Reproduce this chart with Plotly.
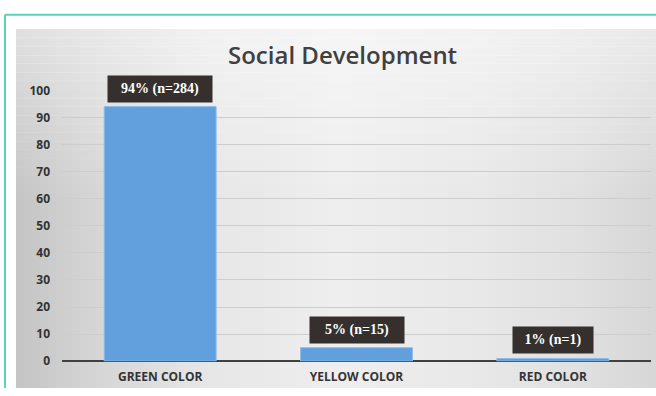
import plotly.graph_objects as go

categories = ["GREEN COLOR", "YELLOW COLOR", "RED COLOR"]
percent_values = [94, 5, 1]
bar_labels = ["94% (n=284)", "5% (n=15)", "1% (n=1)"]
label_widths = [104, 94, 80]
y_ticks = [0, 10, 20, 30, 40, 50, 60, 70, 80, 90, 100]

W, H = 656, 396


def px(x):
    return x / W


def py(y):
    return 1 - y / H


shapes = []
anchors = [(16, 196), (90, 212), (200, 230), (340, 238), (480, 232), (580, 224), (656, 214)]


def grey_at(x):
    for (x0, g0), (x1, g1) in zip(anchors[:-1], anchors[1:]):
        if x0 <= x <= x1:
            t = (x - x0) / (x1 - x0)
            return g0 + t * (g1 - g0)
    return anchors[-1][1]


n = 80
step = (W - 16) / n
for i in range(n):
    x0 = 16 + i * step
    x1 = min(x0 + step + 0.6, W)
    g = int(round(grey_at(x0 + step / 2)))
    shapes.append(dict(type="rect", xref="paper", yref="paper", x0=px(x0), x1=px(x1),
                       y0=py(396), y1=py(21), fillcolor=f"rgb({g},{g},{g})",
                       line=dict(width=0), layer="below"))
m = 20
for j in range(m):
    y0 = 21 + j * 9
    op = 0.45 * (1 - j / m)
    shapes.append(dict(type="rect", xref="paper", yref="paper", x0=px(16), x1=px(W),
                       y0=py(y0 + 9.5), y1=py(y0), fillcolor="white", opacity=op,
                       line=dict(width=0), layer="below"))
# teal frame
shapes.append(dict(type="line", xref="paper", yref="paper", x0=px(5), x1=px(W), y0=py(6), y1=py(6),
                   line=dict(color="#55d6bd", width=2), layer="above"))
shapes.append(dict(type="line", xref="paper", yref="paper", x0=px(5), x1=px(5), y0=py(6), y1=py(396),
                   line=dict(color="#55d6bd", width=2), layer="above"))

fig = go.Figure()
fig.add_trace(go.Bar(
    x=categories, y=percent_values, width=0.57,
    marker=dict(color="#62a0dd", line=dict(color="#8fbde8", width=1)),
    hoverinfo="skip",
))

annotations = []
for c, v, lab, w in zip(categories, percent_values, bar_labels, label_widths):
    annotations.append(dict(
        x=c, y=v, xref="x", yref="y", text=f"<b>{lab}</b>", showarrow=False,
        yanchor="bottom", yshift=4, bgcolor="#35302d", borderpad=0,
        width=w, height=26,
        font=dict(family="Liberation Serif", size=14, color="white"),
    ))
annotations.append(dict(
    x=px(342), y=py(48), xref="paper", yref="paper", text="Social Development",
    showarrow=False, xanchor="center", yanchor="middle",
    font=dict(family="Open Sans", size=24, color="#404040", weight=600),
))

fig.update_layout(
    width=W, height=H,
    margin=dict(l=0, r=0, t=0, b=0),
    paper_bgcolor="white",
    plot_bgcolor="rgba(0,0,0,0)",
    shapes=shapes,
    annotations=annotations,
    showlegend=False,
    hovermode=False,
    xaxis=dict(
        domain=[px(62), px(651)],
        showgrid=False, zeroline=False, showline=False,
        tickfont=dict(family="Open Sans", size=12, color="#333333", weight=700),
        ticklabelstandoff=7,
    ),
    yaxis=dict(
        domain=[py(368), py(85)],
        range=[0, 100],
        tickvals=y_ticks,
        showgrid=True, gridcolor="#cdcdcd", gridwidth=1,
        zeroline=True, zerolinecolor="#404040", zerolinewidth=2,
        showline=False,
        tickfont=dict(family="Open Sans", size=12, color="#333333", weight=700),
        ticklabelstandoff=11,
    ),
)

fig.write_html(
    "out.html",
    post_script="document.body.style.margin='0px';document.body.style.overflow='hidden';",
    config={"displayModeBar": False},
)
